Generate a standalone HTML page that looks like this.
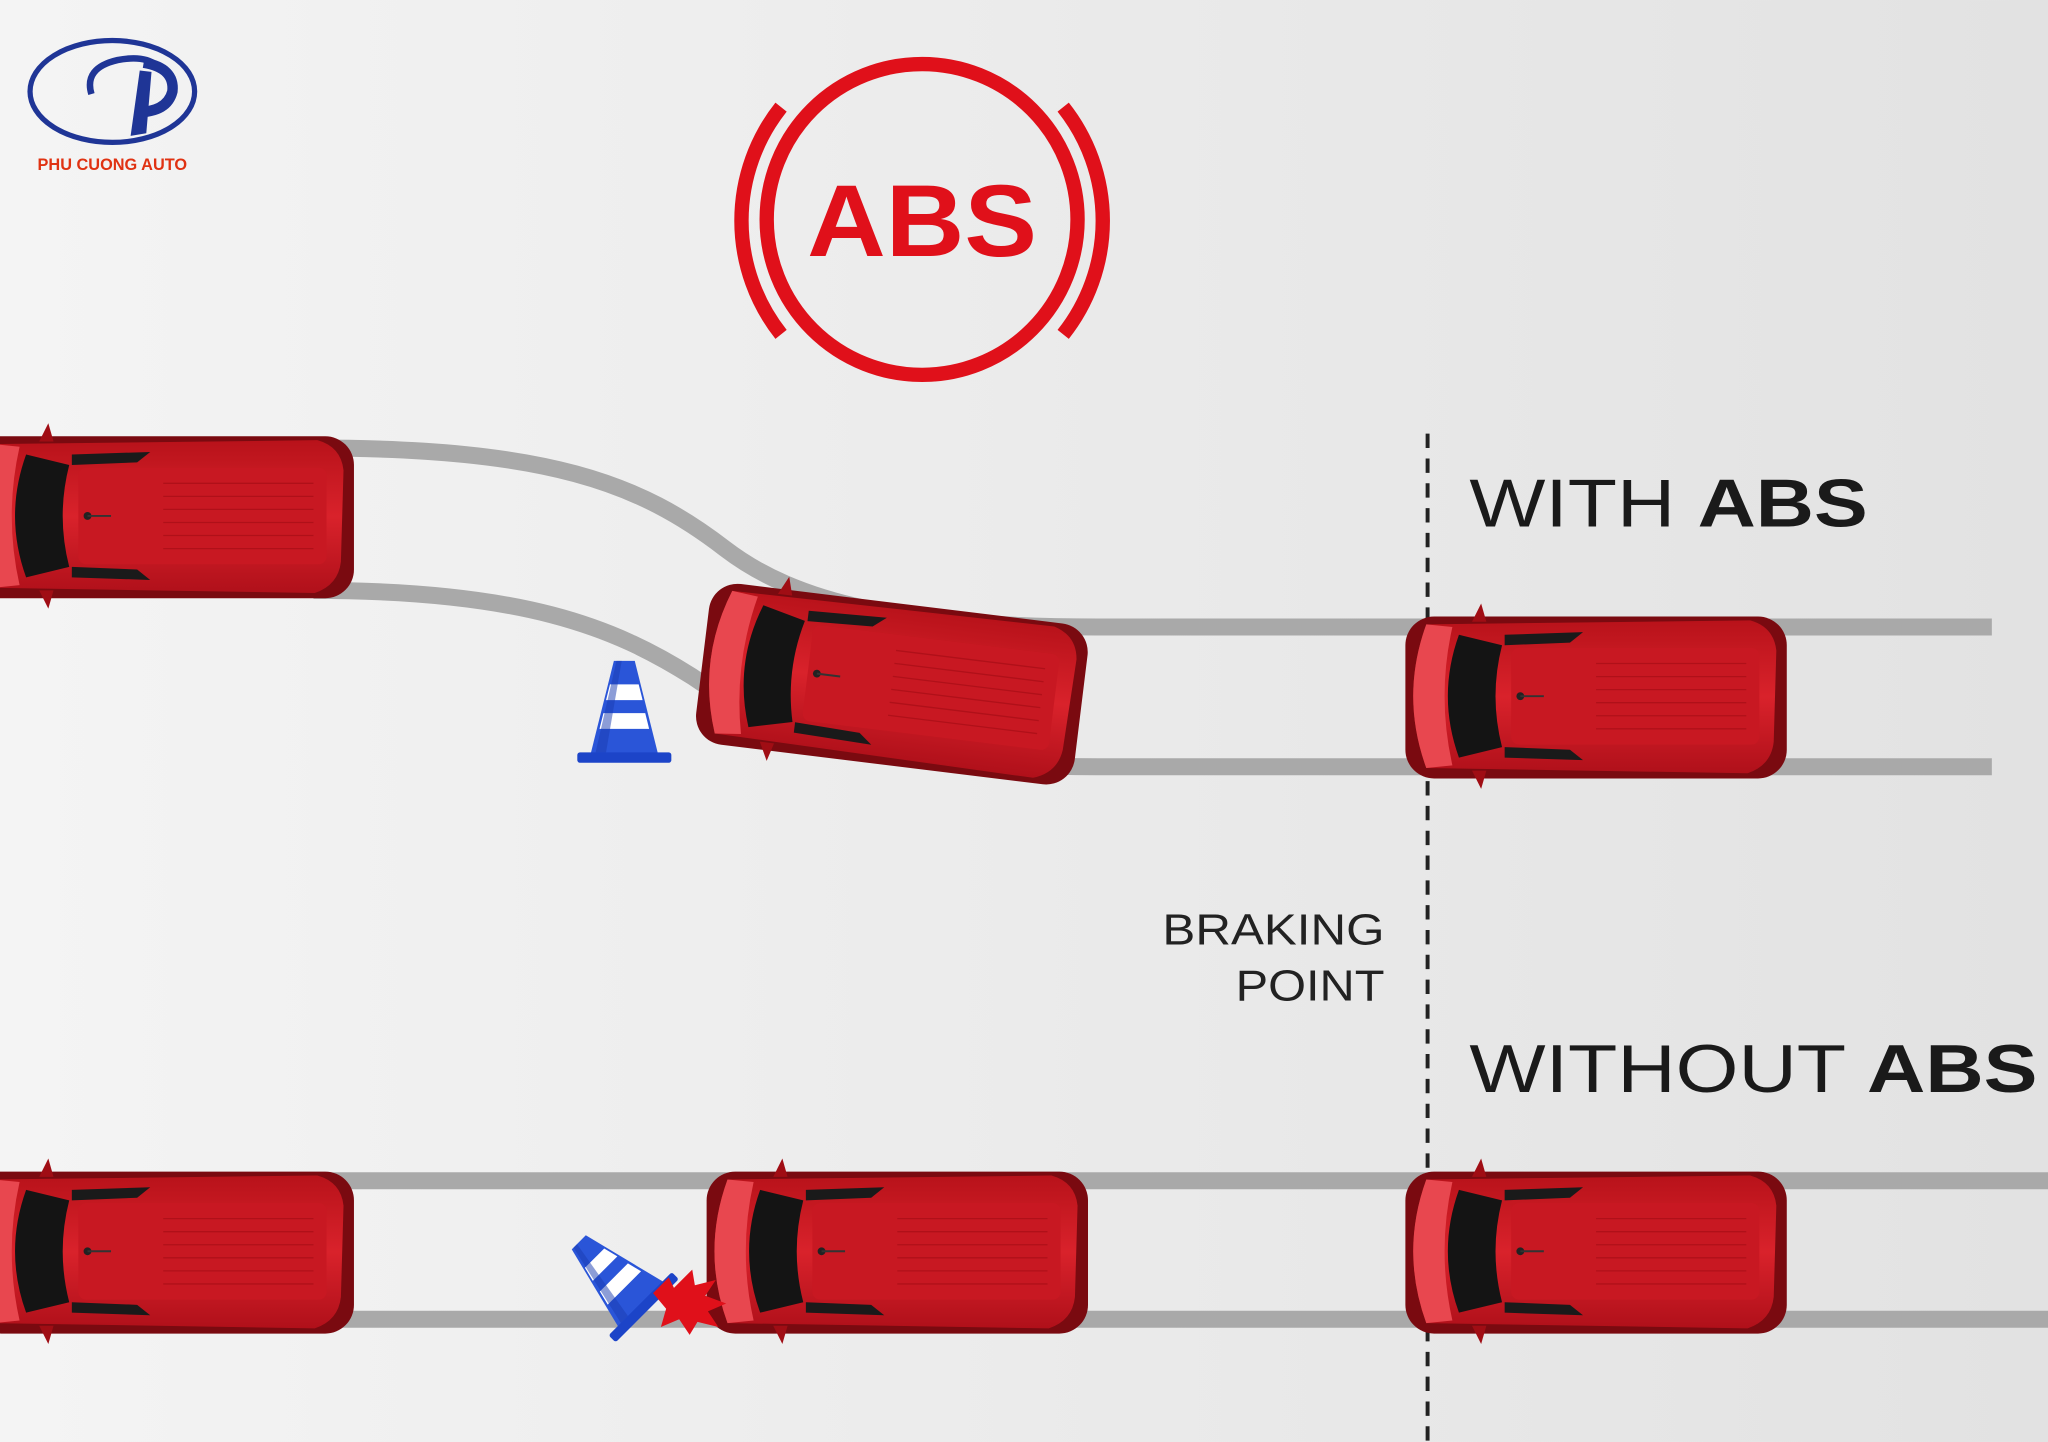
<!DOCTYPE html>
<html><head><meta charset="utf-8"><style>
html,body{margin:0;padding:0;width:2048px;height:1442px;overflow:hidden;background:#eee}
svg{display:block}
text{font-family:"Liberation Sans",sans-serif}
</style></head><body>
<svg width="2048" height="1442" viewBox="0 0 1568 1104" xmlns="http://www.w3.org/2000/svg">
<defs>
<linearGradient id="bg" x1="0" x2="1" y1="0" y2="0"><stop offset="0" stop-color="#f4f4f4"/><stop offset="1" stop-color="#e2e2e2"/></linearGradient>
<linearGradient id="body" x1="0" x2="0" y1="0" y2="1"><stop offset="0" stop-color="#b8121a"/><stop offset="0.5" stop-color="#d9222b"/><stop offset="1" stop-color="#b0101a"/></linearGradient>
<g id="car">
<rect x="4" y="4" width="292" height="124" rx="22" fill="#7a0a10"/>
<path d="M20 10 Q0 65 20 120 L266 124 Q284 118 286 100 L288 30 Q286 12 268 7 Z" fill="url(#body)"/>
<path d="M20 10 Q0 65 20 120 L40 118 Q28 65 40 12 Z" fill="#e8474f"/>
<path d="M45 18 Q28 65 45 112 L78 104 Q68 65 78 26 Z" fill="#141414"/>
<rect x="85" y="28" width="190" height="74" rx="6" fill="#c81822"/>
<g stroke="#b01019" stroke-width="1">
<line x1="150" y1="40" x2="265" y2="40"/><line x1="150" y1="50" x2="265" y2="50"/><line x1="150" y1="60" x2="265" y2="60"/><line x1="150" y1="70" x2="265" y2="70"/><line x1="150" y1="80" x2="265" y2="80"/><line x1="150" y1="90" x2="265" y2="90"/></g>
<path d="M80 18 L140 16 L130 24 L80 26 Z" fill="#1a1a1a"/>
<path d="M80 112 L140 114 L130 106 L80 104 Z" fill="#1a1a1a"/>
<circle cx="92" cy="65" r="3" fill="#222"/><line x1="92" y1="65" x2="110" y2="65" stroke="#333" stroke-width="1.5"/>
<path d="M55 8 L62 -6 L66 8 Z" fill="#a00d14"/><path d="M55 122 L62 136 L66 122 Z" fill="#a00d14"/>
</g>
<g id="cone">
<path d="M-8 -40 L8 -40 L26 32 L-26 32 Z" fill="#2a55d8"/>
<path d="M-11 -22 L11 -22 L14 -10 L-14 -10 Z" fill="#fff"/>
<path d="M-16 0 L16 0 L19 12 L-19 12 Z" fill="#fff"/>
<path d="M-6 -40 L-2 -40 L-14 30 L-22 30 Z" fill="#1a3cb0" opacity=".5"/>
<rect x="-36" y="30" width="72" height="8" rx="2" fill="#1c44c8"/>
</g>
</defs>
<rect width="1568" height="1104" fill="url(#bg)"/>

<!-- logo -->
<ellipse cx="86" cy="70" rx="63" ry="39" fill="none" stroke="#1f3596" stroke-width="4"/>
<path d="M70 72 Q64 52 90 46 Q110 42 120 50" fill="none" stroke="#1f3596" stroke-width="5"/>
<path d="M110 48 Q134 52 132 70 Q128 86 104 86" fill="none" stroke="#1f3596" stroke-width="8"/>
<path d="M107 54 L116 55 L112 102 L100 104 Z" fill="#1f3596"/>
<text x="86" y="130" font-size="12.5" font-weight="bold" fill="#e03212" text-anchor="middle">PHU CUONG AUTO</text>

<!-- ABS icon -->
<circle cx="706" cy="168" r="119" fill="none" stroke="#e0101a" stroke-width="11"/>
<path d="M598 82 A140 140 0 0 0 598 256" fill="none" stroke="#e0101a" stroke-width="11"/>
<path d="M814 82 A140 140 0 0 1 814 256" fill="none" stroke="#e0101a" stroke-width="11"/>
<text x="618" y="196" font-size="78" font-weight="bold" fill="#e0101a" textLength="176" lengthAdjust="spacingAndGlyphs">ABS</text>

<!-- tracks -->
<g fill="none" stroke="#a9a9a9" stroke-width="13">
<path d="M240 343 C420 343 490 370 555 420 C610 462 690 480 840 480 L1525 480"/>
<path d="M240 452 C400 452 470 480 530 518 C590 560 680 587 840 587 L1525 587"/>
<path d="M240 904 L1568 904"/>
<path d="M240 1010 L1568 1010"/>
</g>

<line x1="1093" y1="332" x2="1093" y2="1104" stroke="#222" stroke-width="3" stroke-dasharray="11 8"/>

<!-- cars -->
<use href="#car" transform="translate(-25,330)"/>
<use href="#car" transform="translate(542,440) rotate(7)"/>
<use href="#car" transform="translate(1072,468)"/>
<use href="#car" transform="translate(-25,893)"/>
<use href="#car" transform="translate(537,893)"/>
<use href="#car" transform="translate(1072,893)"/>

<!-- cones -->
<use href="#cone" transform="translate(478,546)"/>
<use href="#cone" transform="translate(470,978) rotate(-45) scale(0.95)"/>
<path d="M500 990 L512 978 L516 986 L530 972 L532 984 L548 980 L540 992 L556 998 L542 1004 L550 1016 L534 1012 L528 1022 L520 1010 L506 1016 L510 1002 Z" fill="#e0101a"/>

<!-- text -->
<text x="1125" y="403" font-size="52" fill="#1a1a1a" textLength="305" lengthAdjust="spacingAndGlyphs"><tspan>WITH </tspan><tspan font-weight="bold">ABS</tspan></text>
<text x="1125" y="836" font-size="52" fill="#1a1a1a" textLength="435" lengthAdjust="spacingAndGlyphs"><tspan>WITHOUT </tspan><tspan font-weight="bold">ABS</tspan></text>
<text x="890" y="723" font-size="33" fill="#222" textLength="170" lengthAdjust="spacingAndGlyphs">BRAKING</text>
<text x="946" y="766" font-size="33" fill="#222" textLength="114" lengthAdjust="spacingAndGlyphs">POINT</text>
</svg>
</body></html>
